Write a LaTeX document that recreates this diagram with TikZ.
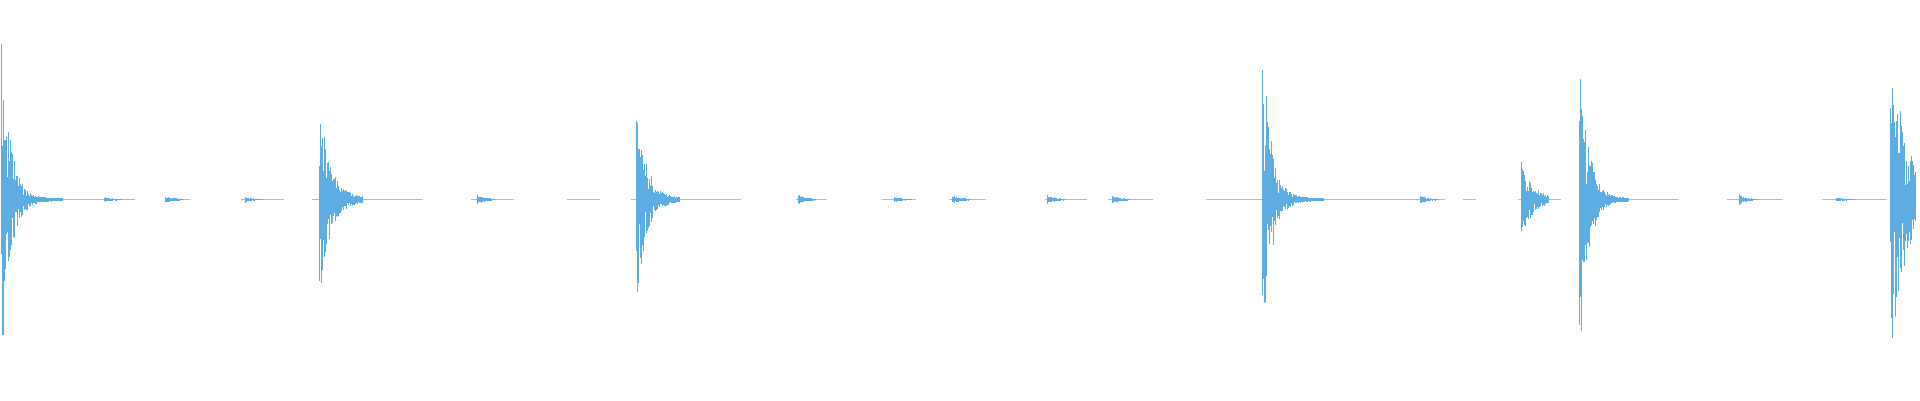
\documentclass[tikz,border=0pt]{standalone}
\definecolor{wave}{HTML}{5DADE2}
\tikzset{wv/.style={draw=wave,line width=0.45pt}}
\begin{document}
\begin{tikzpicture}[x=1pt,y=-1pt]
\useasboundingbox (0,0) rectangle (1568,326.7);
\pgfmathsetseed{7}
% baseline segments
\foreach \a/\b in {20/110,135/155,197/232,255/345,385/420,463/490,515/605,650/675,720/748,775/805,853/888,905/942,985/1180,1195/1205,1240/1275,1290/1370,1410/1455,1488/1540}{
  \draw[wave!70,line width=0.3pt] (\a,163) -- (\b,163);
}
% bursts: x0 / amp / decay / length
\foreach \xo/\A/\d/\L in {1/140/14/100, 261/75/18/70, 520/82/16/70, 1031/133/14/100, 1242/32/18/45, 1290/123/14/80, 1544/135/25/40}{
  \foreach \i in {0,...,\L}{
    \pgfmathsetmacro{\h}{\A*exp(-\i/\d)*(0.2+0.8*rnd)+1.2}
    \pgfmathsetmacro{\hh}{\A*exp(-\i/\d)*(0.2+0.8*rnd)+1.2}
    \pgfmathsetmacro{\xx}{\xo+\i*0.5}
    \draw[wv] (\xx,163-\h) -- (\xx,163+\hh);
  }
}
% small blips
\foreach \xo/\A in {85/2,135/3,200/2,390/4,652/4,730/2,778/4,855/5,908/4,1160/3,1420/4,1500/1.5}{
  \foreach \i in {0,...,20}{
    \pgfmathsetmacro{\h}{\A*exp(-\i/7)*(0.3+0.7*rnd)+0.5}
    \pgfmathsetmacro{\xx}{\xo+\i*0.7}
    \draw[wv] (\xx,163-\h) -- (\xx,163+\h);
  }
}
\end{tikzpicture}
\end{document}
